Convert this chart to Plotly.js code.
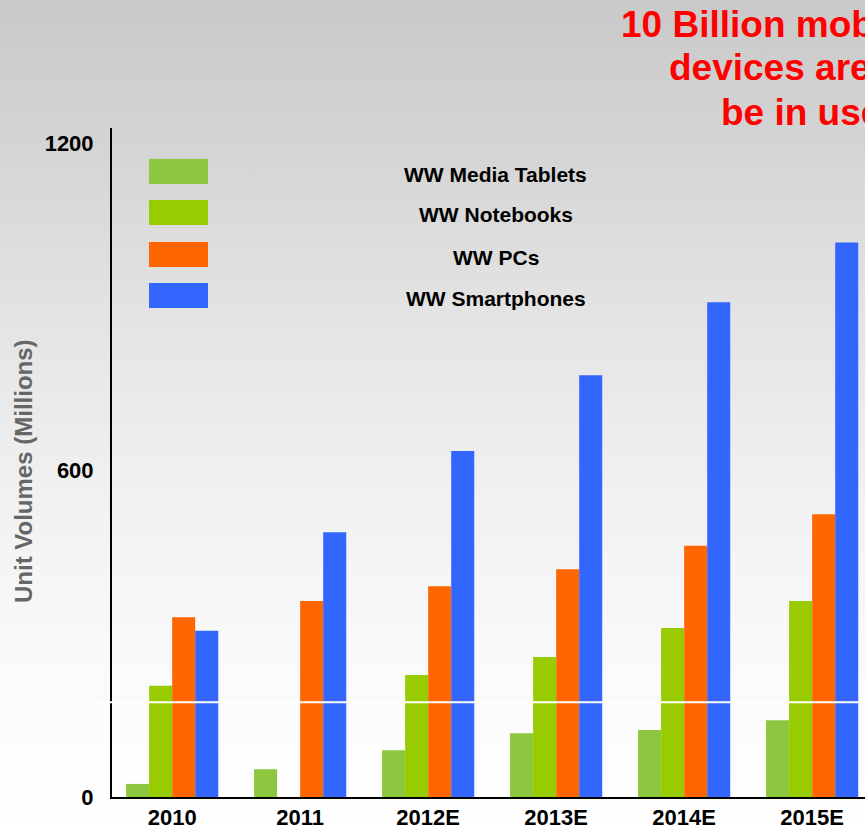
<!DOCTYPE html>
<html>
<head>
<meta charset="utf-8">
<script src="https://cdn.plot.ly/plotly-3.0.1.min.js"></script>
<style>
  html, body { margin:0; padding:0; overflow:hidden; }
  body { width:865px; height:830px;
    background: linear-gradient(to bottom, #c9c9c9 0%, #d6d6d6 20%, #e5e5e5 40%, #f1f1f1 60%, #fafafa 80%, #ffffff 100%); }
  #chart { width:865px; height:830px; }
</style>
</head>
<body>
<div id="chart"></div>
<script>
// ---- data ----
const years = ["2010", "2011", "2012E", "2013E", "2014E", "2015E"];
const seriesNames = ["WW Media Tablets", "WW Notebooks", "WW PCs", "WW Smartphones"];
const seriesColors = ["#8DC63F", "#99CC00", "#FF6600", "#3366FF"];
const tablets     = [24, 51, 86, 117, 123, 141];
const notebooks   = [204, null, 224, 257, 310, 360];
const pcs         = [330, 360, 387, 418, 461, 519];
const smartphones = [305, 486, 635, 774, 908, 1018];
const yTicks = [0, 600, 1200];
const titleLines = ["10 Billion mobile", "devices are expected to", "be in use by 2015"];
const yTitle = "Unit Volumes (Millions)";
const breakValue = 174;

const seriesValues = [tablets, notebooks, pcs, smartphones];

// ---- layout helpers (pixel -> paper) ----
const W = 865, H = 830, L = 112, T = 128, B = 797;
const px = x => (x - L) / (W - L);
const py = y => (B - y) / (B - T);

const font = "Liberation Sans, Arial, Helvetica, sans-serif";

const traces = seriesValues.map((vals, i) => ({
  type: "bar",
  x: years,
  y: vals,
  name: seriesNames[i],
  marker: { color: seriesColors[i], line: { width: 0 } },
  showlegend: false,
  hoverinfo: "x+y+name"
}));

const shapes = [];
const annotations = [];

// legend swatches and labels
const rectTops = [159, 200, 242, 283];
const labelCenters = [174, 214.5, 257, 298.5];
seriesNames.forEach((n, i) => {
  shapes.push({
    type: "rect", xref: "paper", yref: "paper",
    x0: px(149), x1: px(208), y0: py(rectTops[i]), y1: py(rectTops[i] + 25),
    fillcolor: seriesColors[i], line: { width: 0 }
  });
  annotations.push({
    xref: "paper", yref: "paper", x: px(495.5), y: py(labelCenters[i]),
    xanchor: "center", yanchor: "middle", showarrow: false,
    text: n, font: { family: font, size: 21, color: "#000000", weight: "bold" }
  });
});

// white break line
shapes.push({
  type: "line", xref: "paper", yref: "y", x0: px(95), x1: 1,
  y0: breakValue, y1: breakValue, layer: "above",
  line: { color: "#ffffff", width: 2 }
});

// title lines (red)
const titleX = [619, 667, 719];
const titleY = [24, 68, 112];
titleLines.forEach((t, i) => {
  annotations.push({
    xref: "paper", yref: "paper", x: px(titleX[i]), y: py(titleY[i]),
    xanchor: "left", yanchor: "middle", showarrow: false, align: "left",
    text: t, font: { family: font, size: 37, color: "#FF0000", weight: "bold" }
  });
});

// y axis title
annotations.push({
  xref: "paper", yref: "paper", x: px(23), y: py(471),
  xanchor: "center", yanchor: "middle", showarrow: false, textangle: -90,
  text: yTitle, font: { family: font, size: 24, color: "#666666", weight: "bold" }
});

const layout = {
  width: W, height: H,
  margin: { l: L, r: 0, t: T, b: H - B, pad: 0 },
  paper_bgcolor: "rgba(0,0,0,0)",
  plot_bgcolor: "rgba(0,0,0,0)",
  barmode: "group",
  bargap: 0.28,
  bargroupgap: 0,
  showlegend: false,
  xaxis: {
    type: "category",
    range: [-0.47, 5.413],
    showline: true, linecolor: "#000000", linewidth: 2,
    ticks: "", showgrid: false, zeroline: false,
    tickfont: { family: font, size: 22, color: "#000000", weight: "bold" },
    ticklabelstandoff: 0,
    fixedrange: true
  },
  yaxis: {
    range: [0, 1228],
    tickvals: yTicks,
    ticktext: yTicks.map(String),
    showline: true, linecolor: "#000000", linewidth: 2,
    ticks: "", showgrid: false, zeroline: false,
    tickfont: { family: font, size: 22, color: "#000000", weight: "bold" },
    ticklabelstandoff: 12,
    fixedrange: true
  },
  shapes: shapes,
  annotations: annotations
};

Plotly.newPlot("chart", traces, layout, { displayModeBar: false, staticPlot: true });
</script>
</body>
</html>
